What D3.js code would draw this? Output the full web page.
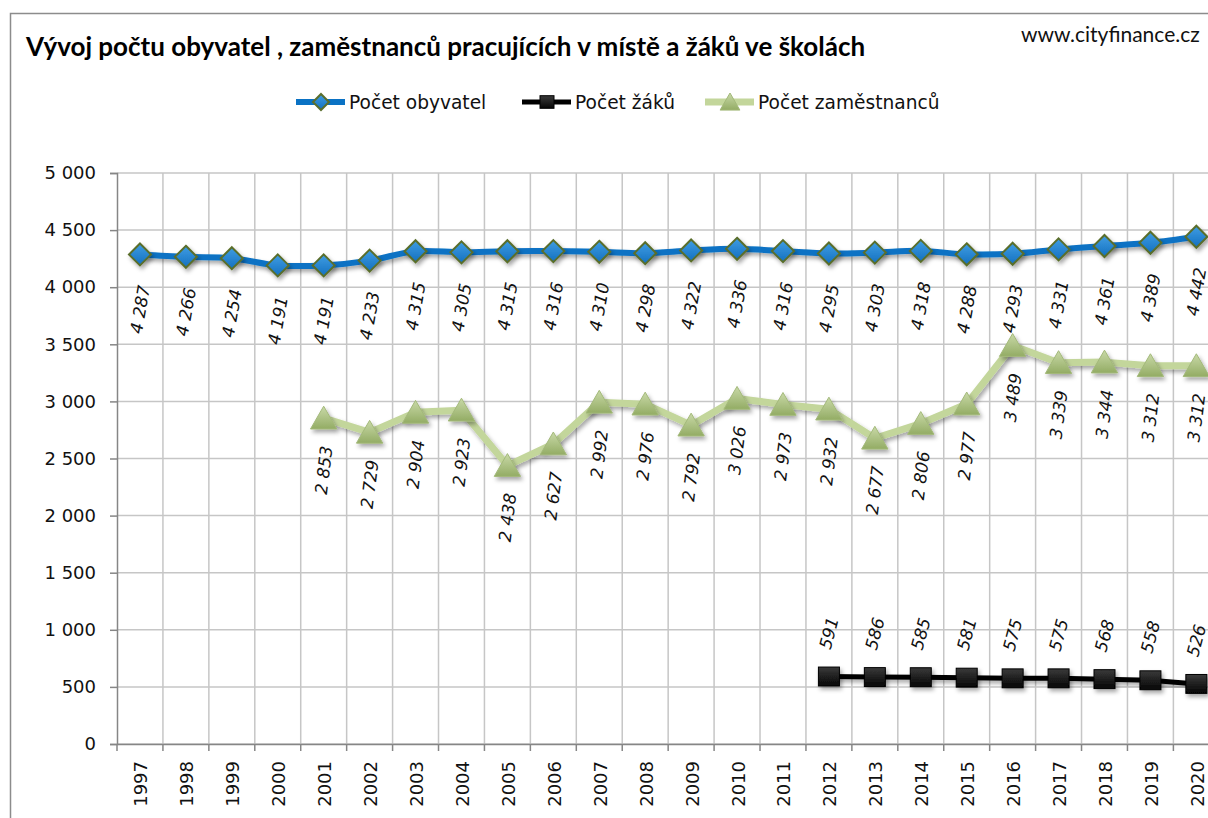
<!DOCTYPE html>
<html>
<head>
<meta charset="utf-8">
<script src="https://cdn.jsdelivr.net/npm/d3@7"></script>
<style>
  body { margin: 0; background: #fff; }
  svg { display: block; }
</style>
</head>
<body>
<svg id="chart" width="1208" height="818"></svg>
<script>
// data
var years = d3.range(1997, 2021).map(String)
var obyvatel = [4287, 4266, 4254, 4191, 4191, 4233, 4315, 4305, 4315, 4316, 4310, 4298,
                4322, 4336, 4316, 4295, 4303, 4318, 4288, 4293, 4331, 4361, 4389, 4442]
var zamYears = d3.range(2001, 2021).map(String)
var zamestnanci = [2853, 2729, 2904, 2923, 2438, 2627, 2992, 2976, 2792, 3026,
                   2973, 2932, 2677, 2806, 2977, 3489, 3339, 3344, 3312, 3312]
var zakYears = d3.range(2012, 2021).map(String)
var zaci = [591, 586, 585, 581, 575, 575, 568, 558, 526]
var yTicks = d3.range(0, 5001, 500)

var title = 'Vývoj počtu obyvatel , zaměstnanců pracujících v místě a žáků ve školách'
var source = 'www.cityfinance.cz'
var legendNames = ['Počet obyvatel', 'Počet žáků', 'Počet zaměstnanců']

var cz = d3.formatLocale({ decimal: ',', thousands: ' ', grouping: [3], currency: ['', ''] })
  , fmt = cz.format(',d')

var font = '"DejaVu Sans", Verdana, sans-serif'
  , titleFont = 'Lato, "Open Sans", sans-serif'

var svg = d3.select('#chart')
var defs = svg.append('defs')

var shadow = defs.append('filter').attr('id', 'shadow')
  .attr('x', '-50%').attr('y', '-50%').attr('width', '200%').attr('height', '200%')
shadow.append('feDropShadow').attr('dx', 2).attr('dy', 3)
  .attr('stdDeviation', 2).attr('flood-color', '#000').attr('flood-opacity', 0.35)

var gBlue = defs.append('linearGradient').attr('id', 'gBlue')
  .attr('x1', 0).attr('y1', 0).attr('x2', 0).attr('y2', 1)
gBlue.append('stop').attr('offset', '0%').attr('stop-color', '#3f9de3')
gBlue.append('stop').attr('offset', '100%').attr('stop-color', '#1470bf')

var gGreen = defs.append('linearGradient').attr('id', 'gGreen')
  .attr('x1', 0).attr('y1', 0).attr('x2', 0).attr('y2', 1)
gGreen.append('stop').attr('offset', '0%').attr('stop-color', '#c9d9a8')
gGreen.append('stop').attr('offset', '100%').attr('stop-color', '#93ac64')

var gBlack = defs.append('linearGradient').attr('id', 'gBlack')
  .attr('x1', 0).attr('y1', 0).attr('x2', 0).attr('y2', 1)
gBlack.append('stop').attr('offset', '0%').attr('stop-color', '#3a3a3a')
gBlack.append('stop').attr('offset', '100%').attr('stop-color', '#050505')

// outer frame (cut by the picture edge on the right and bottom)
svg.append('rect').attr('x', 10.5).attr('y', 13.5).attr('width', 1400).attr('height', 1000)
  .attr('fill', 'none').attr('stroke', '#8c8c8c').attr('stroke-width', 1.5)

svg.append('text').attr('x', 26).attr('y', 56)
  .attr('font-family', titleFont).attr('font-weight', 'bold').attr('font-size', 26)
  .attr('fill', '#000').text(title)

svg.append('text').attr('x', 1021).attr('y', 42)
  .attr('font-family', titleFont).attr('font-size', 21)
  .attr('fill', '#111').text(source)

var plotLeft = 117, plotTop = 173, plotBottom = 744, band = 45.93

var x = d3.scaleBand().domain(years).range([plotLeft, plotLeft + band * years.length])
var y = d3.scaleLinear().domain([0, 5000]).range([plotBottom, plotTop])

// grid
var grid = svg.append('g')
grid.selectAll('line.h').data(yTicks).enter().append('line')
  .attr('x1', plotLeft).attr('x2', x.range()[1])
  .attr('y1', function (d) { return y(d) }).attr('y2', function (d) { return y(d) })
  .attr('stroke', '#c6c6c6').attr('stroke-width', 1.5)
grid.selectAll('line.v').data(years.slice(1).concat(['end'])).enter().append('line')
  .attr('x1', function (d) { return d == 'end' ? x.range()[1] : x(d) })
  .attr('x2', function (d) { return d == 'end' ? x.range()[1] : x(d) })
  .attr('y1', plotTop).attr('y2', plotBottom)
  .attr('stroke', '#c6c6c6').attr('stroke-width', 1.5)

// axes
var yAxis = svg.append('g').attr('transform', 'translate(' + plotLeft + ',0)')
  .call(d3.axisLeft(y).tickValues(yTicks).tickSize(7).tickPadding(14).tickFormat(fmt))
yAxis.select('.domain').attr('stroke', '#868686').attr('stroke-width', 1.5)
yAxis.selectAll('.tick line').attr('stroke', '#868686').attr('stroke-width', 1.5)
yAxis.selectAll('text').attr('font-family', font).attr('font-size', 18).attr('fill', '#111')

var xAxis = svg.append('g').attr('transform', 'translate(0,' + plotBottom + ')')
  .call(d3.axisBottom(x).tickSize(0).tickFormat(''))
xAxis.select('.domain').attr('stroke', '#868686').attr('stroke-width', 1.5)
xAxis.selectAll('line.bt').data(years.slice(1).concat(['start'])).enter().append('line')
  .attr('x1', function (d) { return d == 'start' ? plotLeft : x(d) })
  .attr('x2', function (d) { return d == 'start' ? plotLeft : x(d) })
  .attr('y1', 0).attr('y2', 7).attr('stroke', '#868686').attr('stroke-width', 1.5)
xAxis.selectAll('text.yr').data(years).enter().append('text')
  .attr('transform', function (d) {
    return 'translate(' + (x(d) + x.bandwidth() / 2 + 1) + ',17) rotate(-90)'
  })
  .attr('text-anchor', 'end').attr('dominant-baseline', 'central')
  .attr('font-family', font).attr('font-size', 18).attr('fill', '#111')
  .text(function (d) { return d })

function cx(d) { return x(d) + x.bandwidth() / 2 }

// series
var series = [
  { name: legendNames[1], cats: zakYears, vals: zaci, color: '#000', width: 5,
    curve: d3.curveLinear, marker: 'square', label: 'above', gap: 26, angle: -75 },
  { name: legendNames[2], cats: zamYears, vals: zamestnanci, color: '#c3d69b', width: 7,
    curve: d3.curveLinear, marker: 'triangle', label: 'below', gap: 27, angle: -83 },
  { name: legendNames[0], cats: years, vals: obyvatel, color: '#0a72c4', width: 6,
    curve: d3.curveCatmullRom.alpha(0.5), marker: 'diamond', label: 'below', gap: 30, angle: -80 }
]

function drawMarker(g, kind, s) {
  if (kind == 'diamond')
    g.append('path').attr('d', 'M0,' + (-s) + 'L' + s + ',0L0,' + s + 'L' + (-s) + ',0Z')
      .attr('fill', 'url(#gBlue)').attr('stroke', '#5a6e2c').attr('stroke-width', 2)
  else if (kind == 'square')
    g.append('rect').attr('x', -s).attr('y', -s * 0.9).attr('width', 2 * s).attr('height', 1.8 * s)
      .attr('fill', 'url(#gBlack)').attr('stroke', '#000').attr('stroke-width', 1)
  else
    g.append('path').attr('d', 'M0,' + (-s) + 'L' + (s * 1.1) + ',' + (s * 0.9) + 'L' + (-s * 1.1) + ',' + (s * 0.9) + 'Z')
      .attr('fill', 'url(#gGreen)').attr('stroke', '#a3b97a').attr('stroke-width', 1)
}

var markerSize = { diamond: 11, square: 10.5, triangle: 12 }

series.forEach(function (s) {
  var pts = s.cats.map(function (c, i) { return [cx(c), y(s.vals[i]), s.vals[i]] })
  var line = d3.line().curve(s.curve)
  svg.append('path').attr('d', line(pts)).attr('fill', 'none')
    .attr('stroke', s.color).attr('stroke-width', s.width)
    .attr('stroke-linejoin', 'round').attr('filter', 'url(#shadow)')
  pts.forEach(function (p) {
    var g = svg.append('g').attr('transform', 'translate(' + p[0] + ',' + p[1] + ')')
      .attr('filter', 'url(#shadow)')
    drawMarker(g, s.marker, markerSize[s.marker])
  })
  s.pts = pts
})

// data labels
series.forEach(function (s) {
  s.pts.forEach(function (p) {
    var t = svg.append('text')
      .attr('font-family', font).attr('font-style', 'italic').attr('font-size', 17)
      .attr('fill', '#111').attr('text-anchor', 'middle').attr('dominant-baseline', 'central')
      .text(fmt(p[2]))
    var w = t.node().getComputedTextLength()
      , a = Math.abs(s.angle) * Math.PI / 180
      , ext = w * Math.sin(a) + 13 * Math.cos(a)
      , off = s.gap + ext / 2
      , ly = s.label == 'below' ? p[1] + off : p[1] - off
    t.attr('transform', 'translate(' + p[0] + ',' + ly + ') rotate(' + s.angle + ')')
  })
})

// legend
var legend = [
  { name: legendNames[0], x: 296, color: '#0a72c4', width: 6, marker: 'diamond', size: 8 },
  { name: legendNames[1], x: 522, color: '#000', width: 5, marker: 'square', size: 7 },
  { name: legendNames[2], x: 705, color: '#c3d69b', width: 7, marker: 'triangle', size: 9 }
]
var lg = svg.append('g').attr('transform', 'translate(0,102)')
legend.forEach(function (d) {
  lg.append('line').attr('x1', d.x).attr('x2', d.x + 49).attr('y1', 0).attr('y2', 0)
    .attr('stroke', d.color).attr('stroke-width', d.width)
  var g = lg.append('g').attr('transform', 'translate(' + (d.x + 25) + ',0)')
  drawMarker(g, d.marker, d.size)
  lg.append('text').attr('x', d.x + 53).attr('y', 0).attr('dominant-baseline', 'central')
    .attr('font-family', font).attr('font-size', 18.6).attr('fill', '#111').text(d.name)
})
</script>
</body>
</html>
